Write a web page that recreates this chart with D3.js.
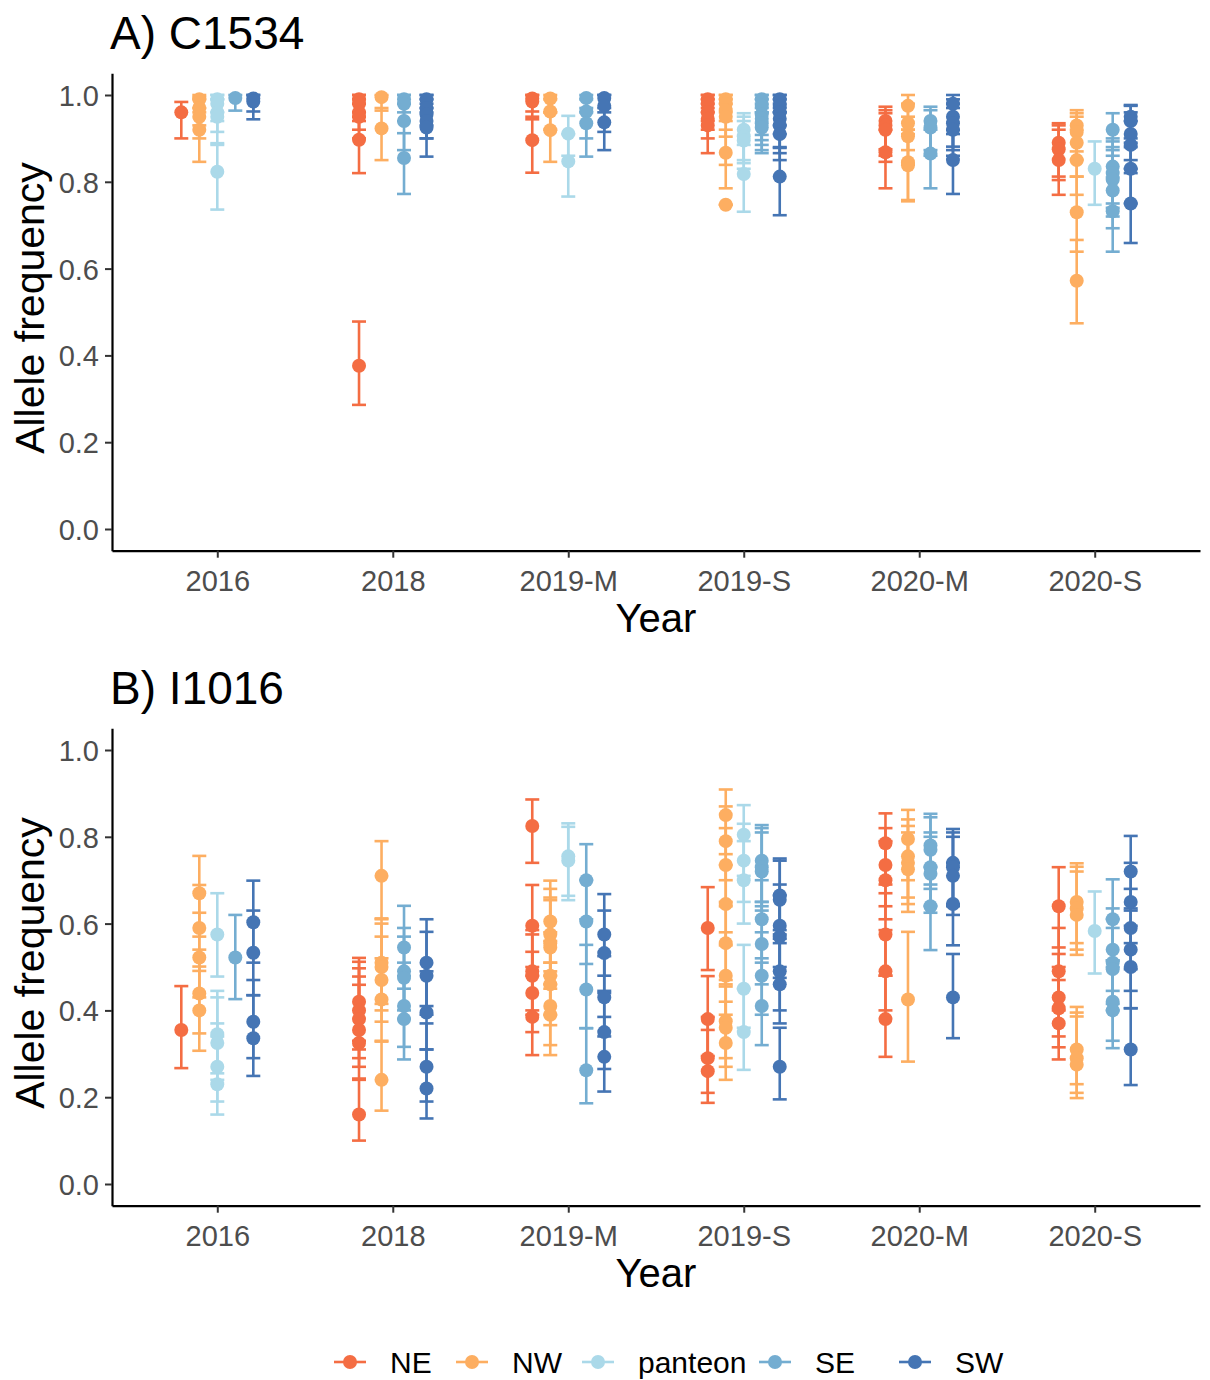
<!DOCTYPE html>
<html>
<head>
<meta charset="utf-8">
<script src="https://cdn.jsdelivr.net/npm/d3@7"></script>
<style>
	body { margin: 0; background: #fff; }
	svg { display: block; font-family: "Liberation Sans", Arial, sans-serif; }
</style>
</head>
<body>
<svg id="chart" width="1210" height="1380"></svg>
<script>
// DATA
const years = ["2016", "2018", "2019-M", "2019-S", "2020-M", "2020-S"];
const pops = ["NE", "NW", "panteon", "SE", "SW"];
const popColors = ["#F46D43", "#FDAE61", "#ABD9E9", "#74ADD1", "#4575B4"];
const yTicks = [0.0, 0.2, 0.4, 0.6, 0.8, 1.0];

// [year, population, frequency, lower, upper]
const c1534 = [
	["2016","NE",0.96,0.90,0.984],
	["2016","NW",0.99,0.96,1.0],["2016","NW",0.97,0.93,0.995],["2016","NW",0.95,0.90,0.99],["2016","NW",0.92,0.846,0.97],
	["2016","panteon",0.99,0.96,1.0],["2016","panteon",0.98,0.94,1.0],["2016","panteon",0.96,0.915,0.99],["2016","panteon",0.95,0.889,0.99],["2016","panteon",0.823,0.736,0.885],
	["2016","SE",0.993,0.964,1.0],
	["2016","SW",0.992,0.962,1.0],["2016","SW",0.985,0.944,1.0],

	["2018","NE",0.99,0.96,1.0],["2018","NE",0.98,0.94,1.0],["2018","NE",0.96,0.92,0.99],["2018","NE",0.95,0.90,0.98],["2018","NE",0.897,0.82,0.95],["2018","NE",0.376,0.286,0.478],
	["2018","NW",0.995,0.964,1.0],["2018","NW",0.923,0.85,0.97],
	["2018","SE",0.99,0.96,1.0],["2018","SE",0.98,0.94,1.0],["2018","SE",0.94,0.873,0.98],["2018","SE",0.855,0.772,0.912],
	["2018","SW",0.99,0.96,1.0],["2018","SW",0.97,0.93,1.0],["2018","SW",0.955,0.90,0.99],["2018","SW",0.94,0.90,0.98],["2018","SW",0.925,0.858,0.97],

	["2019-M","NE",0.992,0.962,1.0],["2019-M","NE",0.985,0.944,1.0],["2019-M","NE",0.896,0.821,0.95],
	["2019-M","NW",0.992,0.96,1.0],["2019-M","NW",0.962,0.92,0.99],["2019-M","NW",0.919,0.846,0.96],
	["2019-M","panteon",0.911,0.86,0.952],["2019-M","panteon",0.847,0.766,0.91],
	["2019-M","SE",0.993,0.96,1.0],["2019-M","SE",0.962,0.90,0.99],["2019-M","SE",0.935,0.858,0.97],
	["2019-M","SW",0.993,0.96,1.0],["2019-M","SW",0.975,0.915,1.0],["2019-M","SW",0.937,0.873,0.97],

	["2019-S","NE",0.99,0.96,1.0],["2019-S","NE",0.98,0.94,1.0],["2019-S","NE",0.96,0.92,0.99],["2019-S","NE",0.945,0.90,0.98],["2019-S","NE",0.93,0.866,0.97],
	["2019-S","NW",0.99,0.96,1.0],["2019-S","NW",0.98,0.94,1.0],["2019-S","NW",0.965,0.904,0.99],["2019-S","NW",0.95,0.839,0.98],["2019-S","NW",0.867,0.785,0.92],["2019-S","NW",0.747,0.747,0.747],
	["2019-S","panteon",0.92,0.85,0.958],["2019-S","panteon",0.905,0.843,0.95],["2019-S","panteon",0.895,0.83,0.94],["2019-S","panteon",0.818,0.731,0.885],
	["2019-S","SE",0.99,0.96,1.0],["2019-S","SE",0.975,0.908,1.0],["2019-S","SE",0.955,0.896,0.99],["2019-S","SE",0.945,0.885,0.98],["2019-S","SE",0.935,0.873,0.97],["2019-S","SE",0.925,0.866,0.96],
	["2019-S","SW",0.99,0.96,1.0],["2019-S","SW",0.975,0.93,1.0],["2019-S","SW",0.96,0.91,0.99],["2019-S","SW",0.945,0.878,0.98],["2019-S","SW",0.93,0.866,0.97],["2019-S","SW",0.91,0.85,0.96],["2019-S","SW",0.812,0.723,0.88],

	["2020-M","NE",0.94,0.875,0.973],["2020-M","NE",0.93,0.86,0.965],["2020-M","NE",0.92,0.846,0.958],["2020-M","NE",0.868,0.785,0.92],
	["2020-M","NW",0.975,0.92,1.0],["2020-M","NW",0.935,0.873,0.98],["2020-M","NW",0.905,0.84,0.95],["2020-M","NW",0.845,0.758,0.92],["2020-M","NW",0.838,0.755,0.91],
	["2020-M","SE",0.94,0.873,0.973],["2020-M","SE",0.925,0.86,0.965],["2020-M","SE",0.865,0.785,0.92],
	["2020-M","SW",0.98,0.92,1.0],["2020-M","SW",0.95,0.881,0.99],["2020-M","SW",0.935,0.873,0.98],["2020-M","SW",0.92,0.86,0.97],["2020-M","SW",0.85,0.772,0.91],

	["2020-S","NE",0.89,0.812,0.935],["2020-S","NE",0.875,0.804,0.93],["2020-S","NE",0.85,0.77,0.92],
	["2020-S","NW",0.93,0.87,0.965],["2020-S","NW",0.915,0.85,0.958],["2020-S","NW",0.89,0.812,0.95],["2020-S","NW",0.85,0.77,0.92],["2020-S","NW",0.73,0.639,0.812],["2020-S","NW",0.572,0.474,0.666],
	["2020-S","panteon",0.83,0.747,0.893],
	["2020-S","SE",0.92,0.873,0.958],["2020-S","SE",0.835,0.75,0.893],["2020-S","SE",0.82,0.74,0.90],["2020-S","SE",0.805,0.72,0.88],["2020-S","SE",0.78,0.693,0.86],["2020-S","SE",0.732,0.639,0.81],
	["2020-S","SW",0.95,0.89,0.977],["2020-S","SW",0.94,0.88,0.975],["2020-S","SW",0.91,0.85,0.96],["2020-S","SW",0.885,0.82,0.94],["2020-S","SW",0.83,0.75,0.90],["2020-S","SW",0.75,0.659,0.83]
];

const i1016 = [
	["2016","NE",0.355,0.267,0.456],
	["2016","NW",0.67,0.57,0.756],["2016","NW",0.59,0.491,0.689],["2016","NW",0.522,0.43,0.625],["2016","NW",0.439,0.347,0.54],["2016","NW",0.40,0.307,0.501],
	["2016","panteon",0.575,0.478,0.67],["2016","panteon",0.345,0.255,0.445],["2016","panteon",0.325,0.24,0.43],["2016","panteon",0.27,0.19,0.37],["2016","panteon",0.23,0.16,0.34],
	["2016","SE",0.522,0.426,0.62],
	["2016","SW",0.603,0.51,0.699],["2016","SW",0.533,0.435,0.63],["2016","SW",0.374,0.29,0.47],["2016","SW",0.336,0.249,0.435],

	["2018","NE",0.42,0.33,0.521],["2018","NE",0.40,0.31,0.512],["2018","NE",0.38,0.29,0.497],["2018","NE",0.355,0.27,0.478],["2018","NE",0.325,0.243,0.459],["2018","NE",0.16,0.10,0.24],
	["2018","NW",0.71,0.612,0.79],["2018","NW",0.51,0.415,0.61],["2018","NW",0.50,0.40,0.60],["2018","NW",0.47,0.374,0.57],["2018","NW",0.425,0.33,0.52],["2018","NW",0.24,0.169,0.328],
	["2018","SE",0.545,0.45,0.641],["2018","SE",0.49,0.40,0.59],["2018","SE",0.475,0.38,0.57],["2018","SE",0.41,0.316,0.51],["2018","SE",0.38,0.287,0.48],
	["2018","SW",0.51,0.41,0.61],["2018","SW",0.48,0.39,0.581],["2018","SW",0.395,0.31,0.49],["2018","SW",0.27,0.19,0.37],["2018","SW",0.22,0.151,0.31],

	["2019-M","NE",0.825,0.74,0.886],["2019-M","NE",0.595,0.50,0.689],["2019-M","NE",0.49,0.40,0.585],["2019-M","NE",0.48,0.39,0.575],["2019-M","NE",0.44,0.35,0.535],["2019-M","NE",0.385,0.297,0.48],
	["2019-M","NW",0.605,0.51,0.699],["2019-M","NW",0.575,0.48,0.68],["2019-M","NW",0.555,0.46,0.66],["2019-M","NW",0.545,0.45,0.654],["2019-M","NW",0.48,0.39,0.58],["2019-M","NW",0.46,0.366,0.56],["2019-M","NW",0.41,0.32,0.51],["2019-M","NW",0.39,0.297,0.49],
	["2019-M","panteon",0.755,0.664,0.831],["2019-M","panteon",0.745,0.654,0.823],
	["2019-M","SE",0.70,0.61,0.783],["2019-M","SE",0.605,0.507,0.70],["2019-M","SE",0.448,0.359,0.551],["2019-M","SE",0.262,0.186,0.359],
	["2019-M","SW",0.575,0.48,0.668],["2019-M","SW",0.532,0.44,0.63],["2019-M","SW",0.43,0.34,0.525],["2019-M","SW",0.35,0.265,0.445],["2019-M","SW",0.293,0.213,0.385],

	["2019-S","NE",0.59,0.493,0.684],["2019-S","NE",0.38,0.295,0.479],["2019-S","NE",0.29,0.21,0.385],["2019-S","NE",0.26,0.187,0.355],
	["2019-S","NW",0.85,0.76,0.909],["2019-S","NW",0.79,0.70,0.87],["2019-S","NW",0.735,0.64,0.82],["2019-S","NW",0.645,0.55,0.735],["2019-S","NW",0.555,0.46,0.65],["2019-S","NW",0.48,0.39,0.58],["2019-S","NW",0.375,0.29,0.47],["2019-S","NW",0.36,0.27,0.455],["2019-S","NW",0.325,0.24,0.42],
	["2019-S","panteon",0.805,0.71,0.873],["2019-S","panteon",0.745,0.65,0.83],["2019-S","panteon",0.70,0.60,0.79],["2019-S","panteon",0.45,0.36,0.551],["2019-S","panteon",0.35,0.263,0.45],
	["2019-S","SE",0.745,0.65,0.827],["2019-S","SE",0.73,0.64,0.82],["2019-S","SE",0.72,0.63,0.81],["2019-S","SE",0.61,0.52,0.70],["2019-S","SE",0.553,0.46,0.65],["2019-S","SE",0.48,0.39,0.58],["2019-S","SE",0.41,0.32,0.51],
	["2019-S","SW",0.665,0.575,0.75],["2019-S","SW",0.655,0.565,0.745],["2019-S","SW",0.595,0.50,0.69],["2019-S","SW",0.57,0.475,0.665],["2019-S","SW",0.49,0.40,0.585],["2019-S","SW",0.46,0.37,0.555],["2019-S","SW",0.27,0.195,0.36],

	["2020-M","NE",0.785,0.69,0.854],["2020-M","NE",0.735,0.64,0.82],["2020-M","NE",0.70,0.61,0.79],["2020-M","NE",0.575,0.48,0.67],["2020-M","NE",0.49,0.40,0.585],["2020-M","NE",0.38,0.293,0.48],
	["2020-M","NW",0.795,0.70,0.862],["2020-M","NW",0.755,0.66,0.84],["2020-M","NW",0.74,0.645,0.825],["2020-M","NW",0.725,0.627,0.81],["2020-M","NW",0.425,0.282,0.581],
	["2020-M","SE",0.78,0.69,0.853],["2020-M","SE",0.77,0.68,0.845],["2020-M","SE",0.73,0.64,0.81],["2020-M","SE",0.715,0.625,0.80],["2020-M","SE",0.64,0.539,0.73],
	["2020-M","SW",0.74,0.645,0.818],["2020-M","SW",0.73,0.64,0.81],["2020-M","SW",0.71,0.62,0.80],["2020-M","SW",0.645,0.55,0.74],["2020-M","SW",0.43,0.336,0.53],

	["2020-S","NE",0.64,0.545,0.73],["2020-S","NE",0.49,0.40,0.59],["2020-S","NE",0.43,0.34,0.53],["2020-S","NE",0.405,0.315,0.50],["2020-S","NE",0.37,0.287,0.47],
	["2020-S","NW",0.65,0.555,0.739],["2020-S","NW",0.635,0.54,0.731],["2020-S","NW",0.62,0.528,0.72],["2020-S","NW",0.31,0.23,0.408],["2020-S","NW",0.29,0.21,0.395],["2020-S","NW",0.275,0.198,0.386],
	["2020-S","panteon",0.583,0.485,0.674],
	["2020-S","SE",0.61,0.515,0.702],["2020-S","SE",0.54,0.445,0.635],["2020-S","SE",0.51,0.415,0.61],["2020-S","SE",0.495,0.40,0.59],["2020-S","SE",0.42,0.33,0.515],["2020-S","SE",0.40,0.313,0.50],
	["2020-S","SW",0.72,0.63,0.802],["2020-S","SW",0.65,0.555,0.74],["2020-S","SW",0.59,0.495,0.68],["2020-S","SW",0.54,0.445,0.635],["2020-S","SW",0.50,0.405,0.595],["2020-S","SW",0.31,0.228,0.405]
];

// SETUP
const svg = d3.select('#chart');
const plotLeft = 112, plotRight = 1200;
const capHalf = 7, pointR = 7, dodgeWidth = 90;

const color = d3.scaleOrdinal().domain(pops).range(popColors);
const x = d3.scalePoint().domain(years).range([plotLeft, plotRight]).padding(0.6);

drawPanel("A) C1534", c1534, 73.3);
drawPanel("B) I1016", i1016, 728.3);
drawLegend(1362);

// FUNCTIONS
// dodge like ggplot: only the populations present in a year share the width
function makeXPos(rows) {
	let dodges = {};
	years.forEach(yr => {
		let present = pops.filter(p => rows.some(r => r[0] === yr && r[1] === p));
		dodges[yr] = d3.scaleBand().domain(present).range([-dodgeWidth / 2, dodgeWidth / 2]);
	});
	return d => x(d[0]) + dodges[d[0]](d[1]) + dodges[d[0]].bandwidth() / 2;
}

function drawPanel(title, rows, top) {
	let bottom = top + 477.4;
	let y = d3.scaleLinear().domain([-0.05, 1.05]).range([bottom, top]);
	let xPos = makeXPos(rows);
	let g = svg.append('g');

	// axes
	let yAxis = g.append('g')
		.attr('transform', `translate(${plotLeft},0)`)
		.call(d3.axisLeft(y).tickValues(yTicks).tickFormat(d3.format('.1f')).tickSize(7).tickSizeOuter(0).tickPadding(6));
	let xAxis = g.append('g')
		.attr('transform', `translate(0,${bottom})`)
		.call(d3.axisBottom(x).tickSize(7).tickSizeOuter(0).tickPadding(6));

	[yAxis, xAxis].forEach(a => {
		a.select('.domain').attr('stroke', '#000').attr('stroke-width', 2.2);
		a.selectAll('.tick line').attr('stroke', '#333').attr('stroke-width', 2);
		a.selectAll('.tick text').attr('fill', '#4D4D4D').style('font-size', '29px');
	});
	xAxis.selectAll('.tick text').attr('dy', '0.95em');
	yAxis.selectAll('.tick text').attr('dy', '0.36em');

	// error bars
	let bars = g.append('g').selectAll('g')
		.data(rows)
		.join('g')
		.attr('stroke', d => color(d[1]))
		.attr('stroke-width', 2.6);
	bars.append('line')
		.attr('x1', xPos).attr('x2', xPos)
		.attr('y1', d => y(d[3])).attr('y2', d => y(d[4]));
	bars.append('line')
		.attr('x1', d => xPos(d) - capHalf).attr('x2', d => xPos(d) + capHalf)
		.attr('y1', d => y(d[3])).attr('y2', d => y(d[3]));
	bars.append('line')
		.attr('x1', d => xPos(d) - capHalf).attr('x2', d => xPos(d) + capHalf)
		.attr('y1', d => y(d[4])).attr('y2', d => y(d[4]));

	// points
	g.append('g').selectAll('circle')
		.data(rows)
		.join('circle')
		.attr('cx', xPos)
		.attr('cy', d => y(d[2]))
		.attr('r', pointR)
		.attr('fill', d => color(d[1]));

	// titles
	g.append('text')
		.attr('x', plotLeft - 2)
		.attr('y', top - 24)
		.style('font-size', '46px')
		.text(title);
	g.append('text')
		.attr('x', (plotLeft + plotRight) / 2)
		.attr('y', bottom + 81)
		.attr('text-anchor', 'middle')
		.style('font-size', '40px')
		.text('Year');
	g.append('text')
		.attr('transform', `translate(44,${y(0.5) - 4}) rotate(-90)`)
		.attr('text-anchor', 'middle')
		.style('font-size', '41px')
		.text('Allele frequency');
}

function drawLegend(cy) {
	let keyX = [350, 472, 598, 775, 915];
	let items = svg.append('g').selectAll('g')
		.data(pops)
		.join('g')
		.attr('transform', (d, i) => `translate(${keyX[i]},${cy})`);
	items.append('line')
		.attr('x1', -16).attr('x2', 16)
		.attr('stroke', d => color(d))
		.attr('stroke-width', 2.6);
	items.append('circle')
		.attr('r', pointR)
		.attr('fill', d => color(d));
	items.append('text')
		.attr('x', 40)
		.attr('dy', '0.36em')
		.style('font-size', '30px')
		.text(d => d);
}
</script>
</body>
</html>
